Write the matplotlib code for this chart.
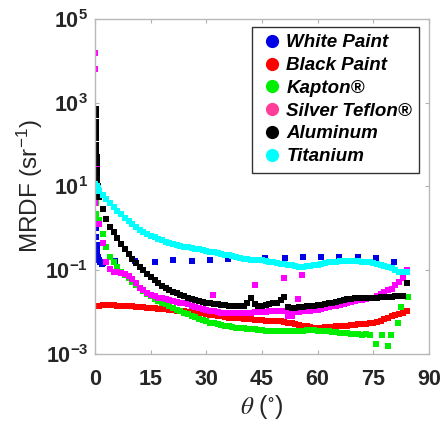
import numpy as np
import matplotlib.pyplot as plt
from matplotlib.lines import Line2D

plt.rcParams['font.family'] = ['Liberation Sans', 'DejaVu Sans']
plt.rcParams['mathtext.fontset'] = 'stix'
plt.rcParams['mathtext.default'] = 'regular'

# incidence angle grid (deg) for the dense part of each curve
theta = np.arange(0, 85)

# log10 MRDF, one value per degree
titanium_log = [0.96, 0.88, 0.79, 0.69, 0.60, 0.51, 0.42, 0.33, 0.24, 0.17, 0.10, 0.03, -0.04, -0.09, -0.13,
                -0.18, -0.22, -0.26, -0.29, -0.32, -0.35, -0.38, -0.40, -0.42, -0.44, -0.46, -0.48, -0.49, -0.51,
                -0.52, -0.54, -0.56, -0.58, -0.59, -0.61, -0.63, -0.65, -0.67, -0.70, -0.72, -0.73, -0.74, -0.75,
                -0.75, -0.76, -0.77, -0.79, -0.80, -0.82, -0.83, -0.85, -0.86, -0.88, -0.89, -0.91, -0.92, -0.92,
                -0.91, -0.90, -0.89, -0.88, -0.86, -0.84, -0.82, -0.81, -0.80, -0.79, -0.78, -0.78, -0.78, -0.78,
                -0.79, -0.80, -0.81, -0.82, -0.84, -0.86, -0.88, -0.90, -0.92, -0.96, -1.00, -1.04, -1.05, -1.06]
titanium_peak_theta = [0.0, 0.2, 0.4, 0.6, 0.8]
titanium_peak_log = [1.05, 0.92, 1.00, 0.90, 0.95]

black_paint_log = [-1.86, -1.85, -1.84, -1.84, -1.83, -1.84, -1.85, -1.85, -1.86, -1.87, -1.87, -1.88, -1.89,
                   -1.89, -1.90, -1.91, -1.92, -1.93, -1.93, -1.94, -1.95, -1.96, -1.97, -1.98, -1.99, -2.00,
                   -2.01, -2.02, -2.03, -2.04, -2.06, -2.07, -2.08, -2.10, -2.11, -2.12, -2.14, -2.15, -2.16,
                   -2.16, -2.17, -2.18, -2.18, -2.19, -2.19, -2.20, -2.21, -2.21, -2.22, -2.23, -2.23, -2.25,
                   -2.27, -2.28, -2.30, -2.32, -2.33, -2.35, -2.37, -2.38, -2.39, -2.38, -2.37, -2.37, -2.36,
                   -2.35, -2.34, -2.33, -2.33, -2.32, -2.31, -2.30, -2.30, -2.29, -2.28, -2.27, -2.25, -2.22,
                   -2.18, -2.14, -2.11, -2.08, -2.06, -2.03, -1.99]

kapton_log = [0.90, 0.20, -0.15, -0.45, -0.68, -0.82, -0.94, -1.04, -1.12, -1.20, -1.28, -1.36, -1.43, -1.50,
              -1.57, -1.63, -1.69, -1.74, -1.78, -1.82, -1.87, -1.91, -1.95, -1.99, -2.02, -2.06, -2.10, -2.13,
              -2.17, -2.20, -2.23, -2.26, -2.28, -2.30, -2.32, -2.33, -2.35, -2.36, -2.38, -2.39, -2.40, -2.41,
              -2.42, -2.42, -2.43, -2.44, -2.45, -2.46, -2.46, -2.47, -2.47, -2.47, -2.47, -2.47, -2.47, -2.47,
              -2.45, -2.44, -2.43, -2.44, -2.45, -2.46, -2.46, -2.47, -2.48, -2.49, -2.50, -2.50, -2.51, -2.52,
              -2.53, -2.54, -2.55, -2.54, -2.55]
kapton_tail_theta = [0.0, 0.1, 0.3, 75.8, 77.5, 78.9, 79.8, 81.6, 82.5, 84.3]
kapton_tail_log = [1.15, 0.60, 0.35, -2.76, -2.55, -2.81, -2.55, -2.27, -1.88, -1.64]

teflon_log = [0.60, 0.10, -0.35, -0.80, -0.98, -1.04, -1.06, -1.07, -1.09, -1.15, -1.22, -1.32, -1.42, -1.49,
              -1.54, -1.59, -1.63, -1.66, -1.68, -1.70, -1.72, -1.74, -1.76, -1.78, -1.80, -1.82, -1.85, -1.88,
              -1.90, -1.93, -1.95, -1.97, -1.99, -2.01, -2.02, -2.03, -2.04, -2.04, -2.04, -2.03, -2.03, -2.02,
              -2.02, -2.01, -2.01, -2.00, -2.00, -1.99, -1.98, -1.97, -1.97, -1.98, -1.99, -2.00, -2.00, -2.00,
              -1.99, -1.98, -1.97, -1.96, -1.95, -1.93, -1.91, -1.89, -1.87, -1.85, -1.83, -1.81, -1.79, -1.77,
              -1.75, -1.73, -1.71, -1.69, -1.68, -1.66, -1.62, -1.58, -1.53, -1.49, -1.45, -1.37, -1.29, -1.20,
              -1.00]
teflon_extra_theta = [31.8, 43.0, 51.0, 55.8, 54.7, 52.0, 53.0, 0.0, 0.0, 0.2, 0.3, 0.4, 0.5]
teflon_extra_log = [-1.60, -1.36, -1.20, -1.13, -1.70, -2.11, -2.11, 4.19, 3.80, 2.20, 1.90, 1.50, 1.10]

aluminum_log = [1.00, 0.75, 0.45, 0.22, 0.04, -0.10, -0.23, -0.37, -0.50, -0.62, -0.73, -0.84, -0.93, -1.01,
                -1.10, -1.17, -1.24, -1.31, -1.38, -1.43, -1.48, -1.52, -1.56, -1.60, -1.63, -1.66, -1.69, -1.72,
                -1.74, -1.76, -1.78, -1.79, -1.81, -1.82, -1.83, -1.84, -1.85, -1.86, -1.86, -1.87, -1.86, -1.80,
                -1.67, -1.82, -1.86, -1.85, -1.83, -1.82, -1.80, -1.78, -1.72, -1.64, -1.88, -1.91, -1.90, -1.89,
                -1.88, -1.87, -1.87, -1.86, -1.84, -1.83, -1.81, -1.80, -1.78, -1.76, -1.74, -1.72, -1.70, -1.69,
                -1.68, -1.68, -1.67, -1.67, -1.67, -1.66, -1.66, -1.65, -1.65, -1.64, -1.64, -1.63, -1.62, -1.62,
                -1.32]
aluminum_peak_theta = [0.1, 0.1, 0.2, 0.2, 0.2, 0.3, 0.3, 0.3, 0.4, 0.4, 0.5, 0.5, 0.6, 0.7]
aluminum_peak_log = [2.85, 2.70, 2.55, 2.40, 2.30, 2.15, 2.00, 1.85, 1.70, 1.55, 1.40, 1.25, 1.10, 1.00]

# white paint: steep drop near normal, then sparse points every 5 deg
white_theta = [0.0, 0.0, 0.1, 0.1, 0.2, 0.1, 0.2, 0.4, 0.6, 0.8, 1.0, 1.3, 1.7, 2.2,
               5.3, 10.7, 16.1, 21.1, 26.0, 30.9, 35.8, 40.8, 45.7, 51.1, 56.0, 61.0, 65.9, 70.8, 75.7, 80.6]
white_log = [2.35, 2.20, 1.90, 1.60, 1.30, 0.00, -0.20, -0.40, -0.55, -0.68, -0.76, -0.82, -0.85, -0.84,
             -0.78, -0.78, -0.80, -0.76, -0.78, -0.76, -0.73, -0.73, -0.72, -0.72, -0.70, -0.70, -0.70, -0.68,
             -0.72, -0.82]

names = ['White Paint', 'Black Paint', 'Kapton®', 'Silver Teflon®', 'Aluminum', 'Titanium']
colors = ['#0000e6', '#ff0000', '#00ee00', '#ff00ff', '#000000', '#00ffff']
legend_colors = ['#0000e6', '#ff0000', '#00ee00', '#ff3d9a', '#000000', '#00ffff']

fig = plt.figure(figsize=(4.43, 4.26), dpi=100)
ax = fig.add_axes([0.215, 0.170, 0.753, 0.785])

kw = dict(linestyle='none', marker='s', ms=4.8, mew=0)

ax.plot(white_theta, 10 ** np.array(white_log), color=colors[0], **kw)
ax.plot(theta[:len(black_paint_log)], 10 ** np.array(black_paint_log), color=colors[1], **kw)
ax.plot(theta[:len(kapton_log)], 10 ** np.array(kapton_log), color=colors[2], **kw)
ax.plot(kapton_tail_theta, 10 ** np.array(kapton_tail_log), color=colors[2], **kw)
ax.plot(theta[:len(teflon_log)], 10 ** np.array(teflon_log), color=colors[3], **kw)
ax.plot(teflon_extra_theta, 10 ** np.array(teflon_extra_log), color=colors[3], **kw)
ax.plot(theta[:len(aluminum_log)], 10 ** np.array(aluminum_log), color=colors[4], **kw)
ax.plot(aluminum_peak_theta, 10 ** np.array(aluminum_peak_log), color=colors[4], **kw)
ax.plot(theta[:len(titanium_log)], 10 ** np.array(titanium_log), color=colors[5], **kw)
ax.plot(titanium_peak_theta, 10 ** np.array(titanium_peak_log), color=colors[5], **kw)

ax.set_yscale('log')
ax.set_xlim(0, 90)
ax.set_ylim(1e-3, 1e5)
ax.set_xticks([0, 15, 30, 45, 60, 75, 90])
ax.set_yticks([1e-3, 1e-1, 1e1, 1e3, 1e5])
ax.set_yticklabels(['10$^{-3}$', '10$^{-1}$', '10$^{1}$', '10$^{3}$', '10$^{5}$'])
ax.minorticks_off()
ax.tick_params(direction='in', top=True, right=True, length=3, color='#b0b0b0',
               labelsize=15.5, labelcolor='#262626')
ax.tick_params(axis='x', pad=11)
ax.tick_params(axis='y', pad=5)
for lab in ax.get_xticklabels() + ax.get_yticklabels():
    lab.set_fontweight('bold')
for sp in ax.spines.values():
    sp.set_color('#b8b8b8')
    sp.set_linewidth(1.0)

ax.set_ylabel('MRDF (sr$^{-1}$)', fontsize=17.5, color='#262626', labelpad=0)
ax.set_xlabel(r'$\mathit{\theta}$ ($^{\circ}$)', fontsize=18, color='#262626', labelpad=2)

handles = [Line2D([], [], linestyle='none', marker='o', ms=9.5, mew=0, color=c) for c in legend_colors]
leg = ax.legend(handles, names, loc='upper right', bbox_to_anchor=(0.972, 0.977), frameon=True,
                fancybox=False, edgecolor='black', handletextpad=0.1, borderpad=0.4,
                labelspacing=0.3, handlelength=1.3, borderaxespad=0.0,
                prop={'weight': 'bold', 'style': 'italic', 'size': 13.5})
leg.get_frame().set_linewidth(1.0)

fig.savefig('out.png', dpi=100)
